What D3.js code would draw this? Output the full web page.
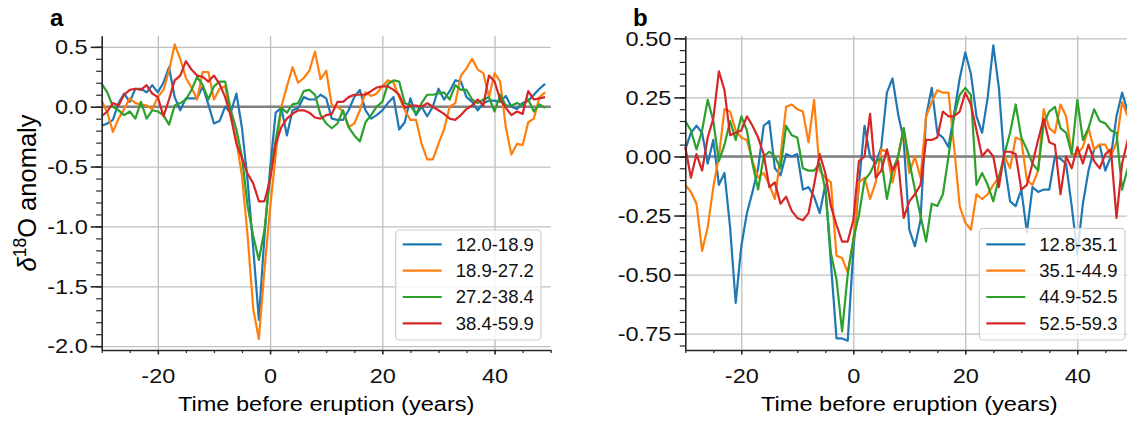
<!DOCTYPE html>
<meta charset="utf-8">

<style>
body { margin: 0; background: #fff; }
svg { display: block; font-family: "Liberation Sans", Arial, sans-serif; }
.grid line { stroke: #bfbfbf; stroke-width: 1.3; }
.grid path { display: none; }
.axis path, .axis line { stroke: #262626; stroke-width: 1.6; }
.axis text { fill: #111; font-size: 21px; font-family: "Liberation Sans", Arial, sans-serif; }
.minor path { display: none; }
.minor line { stroke: #262626; stroke-width: 1.2; }
.zero { stroke: #808080; stroke-width: 2.6; }
.series { fill: none; stroke-width: 2.2; stroke-linejoin: round; }
.legend text { font-size: 18.5px; fill: #111; }
</style>
<body>

<script src="https://cdn.jsdelivr.net/npm/d3@7"></script>
<script>

// years before eruption, one value per year
var years = d3.range(-30, 50);

var colors = ["#1f77b4", "#ff7f0e", "#2ca02c", "#d62728"];
var xTicks = [-20, 0, 20, 40];
var xMinor = [-30, -25, -15, -10, -5, 5, 10, 15, 25, 30, 35, 45, 50];

// panel a
var labelsA = ["12.0-18.9", "18.9-27.2", "27.2-38.4", "38.4-59.9"];
var yTicksA = [-2.0, -1.5, -1.0, -0.5, 0.0, 0.5];
var a1 = [-0.16,-0.14,-0.11,0.03,0.11,0.04,0.15,0.15,0.12,0.18,0.12,0.20,0.33,0.08,-0.03,0.07,0.07,0.07,0.17,0.02,
          -0.14,-0.12,0.00,-0.05,0.11,-0.18,-0.62,-1.18,-1.78,-1.08,-0.52,-0.05,-0.01,-0.24,-0.03,-0.01,0.08,0.06,0.06,0.10,
          0.07,-0.10,-0.11,-0.11,-0.03,0.08,0.14,-0.03,-0.10,-0.07,-0.03,0.03,0.08,-0.19,-0.13,0.07,-0.07,0.00,-0.08,0.00,
          0.15,0.06,0.13,0.22,0.21,0.08,0.04,-0.03,0.03,0.05,0.05,0.04,0.09,0.00,-0.02,0.03,0.05,0.10,0.15,0.19];
var a2 = [0.05,-0.05,-0.21,-0.10,-0.02,0.07,0.03,0.02,0.01,-0.02,0.08,0.14,0.30,0.52,0.40,0.24,0.16,0.06,0.29,0.29,
          0.06,0.15,0.17,-0.08,-0.28,-0.58,-1.08,-1.69,-1.94,-1.36,-0.85,-0.40,0.00,0.17,0.33,0.20,0.24,0.30,0.46,0.23,
          0.30,0.01,0.00,-0.04,-0.17,-0.14,-0.03,0.12,0.09,0.11,0.17,0.22,0.20,0.08,-0.03,-0.11,-0.11,-0.31,-0.44,-0.44,
          -0.31,-0.19,0.00,0.03,0.26,0.32,0.40,0.31,0.28,0.08,0.28,0.21,-0.17,-0.40,-0.31,-0.32,-0.13,-0.10,0.08,0.12];
var a3 = [0.19,0.12,0.00,-0.03,-0.07,-0.04,-0.10,0.04,-0.10,-0.03,-0.04,-0.07,-0.15,0.01,0.03,0.06,0.14,0.25,0.18,0.06,
          0.17,0.21,0.21,-0.03,-0.19,-0.42,-0.83,-1.08,-1.28,-1.03,-0.58,-0.28,-0.01,-0.05,0.02,0.03,0.13,0.14,0.10,-0.07,
          -0.14,-0.18,-0.14,-0.03,-0.17,-0.24,-0.29,-0.13,-0.07,0.00,0.04,0.19,0.22,0.21,0.03,0.01,-0.06,0.03,0.10,0.10,
          0.11,0.12,0.06,0.18,0.14,0.14,0.06,0.03,0.06,0.08,-0.04,0.10,0.01,0.01,0.03,0.01,0.06,-0.04,0.02,-0.01];
var a4 = [-0.08,-0.04,0.03,0.01,0.10,0.14,0.15,0.14,0.18,0.11,0.08,-0.08,0.06,0.22,0.26,0.38,0.31,0.26,0.25,0.21,
          0.26,0.19,0.08,-0.08,-0.31,-0.43,-0.56,-0.64,-0.79,-0.79,-0.61,-0.31,-0.17,-0.10,-0.06,-0.03,-0.03,-0.05,-0.09,-0.10,
          -0.07,-0.06,0.04,0.04,0.08,0.10,0.10,0.10,0.13,0.16,0.17,0.17,0.14,0.10,-0.01,0.01,0.01,0.00,0.03,0.00,
          -0.03,-0.06,-0.10,-0.11,-0.07,-0.02,0.01,0.06,0.01,0.26,0.21,0.06,-0.01,-0.07,-0.04,-0.06,0.13,0.06,0.07,0.08];

// panel b
var labelsB = ["12.8-35.1", "35.1-44.9", "44.9-52.5", "52.5-59.3"];
var yTicksB = [-0.75, -0.50, -0.25, 0.00, 0.25, 0.50];
var b1 = [0.03,0.10,0.13,0.10,-0.03,0.07,-0.12,-0.07,-0.30,-0.62,-0.38,-0.24,-0.15,-0.05,0.13,0.15,-0.05,-0.08,0.01,0.00,
          0.01,-0.14,-0.13,-0.17,-0.24,-0.12,-0.45,-0.77,-0.77,-0.78,-0.40,-0.12,0.13,0.00,-0.03,0.04,0.27,0.33,0.18,0.07,
          -0.31,-0.38,-0.27,0.17,0.29,0.10,0.08,0.04,0.18,0.33,0.44,0.35,0.17,0.10,0.25,0.47,0.29,-0.03,-0.19,-0.21,
          -0.14,-0.32,-0.13,-0.15,-0.14,-0.14,0.00,-0.01,-0.03,-0.21,-0.41,-0.20,-0.06,0.03,0.05,-0.06,0.00,0.17,0.27,0.19];
var b2 = [-0.12,-0.15,-0.20,-0.40,-0.30,-0.13,0.00,0.20,0.19,0.11,0.08,0.07,-0.02,-0.09,-0.07,-0.12,-0.18,0.00,0.21,0.22,
          0.20,0.19,0.06,0.24,-0.06,-0.09,-0.11,-0.42,-0.43,-0.49,-0.36,-0.11,-0.09,-0.18,-0.11,0.03,0.02,-0.11,0.00,0.12,
          -0.07,0.00,-0.09,0.17,0.23,0.28,0.27,0.27,0.04,-0.21,-0.28,-0.31,-0.16,-0.18,-0.16,-0.12,-0.09,0.00,-0.05,0.08,
          0.07,-0.10,-0.12,-0.06,0.20,0.12,0.10,0.22,0.17,0.01,0.01,0.04,0.12,0.03,0.05,0.05,0.00,0.06,0.23,0.17];
var b3 = [0.15,0.11,0.03,0.11,0.24,0.15,-0.02,0.05,0.15,0.07,0.17,0.11,-0.03,-0.14,0.00,0.02,0.00,-0.05,0.13,0.09,
          0.08,-0.05,-0.06,-0.06,-0.03,-0.14,-0.41,-0.52,-0.74,-0.50,-0.35,-0.25,-0.10,-0.07,-0.02,-0.01,-0.18,-0.06,0.00,0.12,
          -0.02,-0.14,-0.25,-0.36,-0.20,-0.21,-0.16,0.00,0.17,0.26,0.29,0.26,-0.12,-0.07,-0.12,-0.19,-0.09,0.01,0.10,0.22,
          0.08,0.03,-0.03,-0.06,0.14,0.19,0.21,0.12,0.10,0.01,0.24,0.07,0.12,0.20,0.15,0.14,0.11,0.10,-0.14,-0.05];
var b4 = [0.04,-0.09,0.01,-0.06,0.08,0.16,0.36,0.28,0.09,0.10,0.11,0.17,0.13,0.08,0.01,-0.13,-0.11,-0.20,-0.17,-0.23,
          -0.26,-0.27,-0.24,-0.12,0.01,-0.07,-0.21,-0.29,-0.36,-0.36,-0.27,-0.02,0.00,0.18,-0.09,-0.06,0.03,-0.06,-0.02,-0.26,
          -0.19,-0.16,-0.12,0.07,0.07,0.08,0.19,0.17,0.17,0.19,0.27,0.22,0.11,0.00,0.03,0.00,-0.13,0.02,0.02,0.01,
          -0.14,-0.12,-0.03,0.07,0.16,0.06,0.05,-0.16,0.00,-0.05,0.04,-0.03,0.05,-0.02,-0.05,0.01,0.03,-0.26,-0.03,0.07];

var W = 1127, H = 421;
var plotTop = 35.7, plotBottom = 350;

var svg = d3.select("body").append("svg")
    .attr("width", W)
    .attr("height", H);

// widen text a little, the reference glyphs run wider than Arial
function stretch(sel, k) {
  sel.each(function() {
    var w = this.getComputedTextLength();
    d3.select(this).attr("textLength", w * k).attr("lengthAdjust", "spacingAndGlyphs");
  });
}

function panel(p) {
  var x = d3.scaleLinear().domain([-30, 50]).range([p.left, p.right]);
  var y = d3.scaleLinear().domain(p.yDomain).range([plotBottom, plotTop]);
  var g = svg.append("g");

  // grid
  g.append("g").attr("class", "grid")
      .attr("transform", "translate(0," + plotBottom + ")")
      .call(d3.axisBottom(x).tickValues(xTicks).tickSize(-(plotBottom - plotTop)).tickFormat(""));
  g.append("g").attr("class", "grid")
      .attr("transform", "translate(" + p.left + ",0)")
      .call(d3.axisLeft(y).tickValues(p.yTicks).tickSize(-(p.right - p.left)).tickFormat(""));

  // zero line
  g.append("line").attr("class", "zero")
      .attr("x1", p.left).attr("x2", p.right)
      .attr("y1", y(0)).attr("y2", y(0));

  var line = d3.line()
      .x(function(d, i) { return x(years[i]); })
      .y(function(d) { return y(d); });

  p.series.forEach(function(s, i) {
    g.append("path").attr("class", "series")
        .attr("d", line(s))
        .style("stroke", colors[i]);
  });

  // minor ticks
  g.append("g").attr("class", "minor")
      .attr("transform", "translate(0," + plotBottom + ")")
      .call(d3.axisBottom(x).tickValues(xMinor).tickSize(3).tickFormat(""));
  g.append("g").attr("class", "minor")
      .attr("transform", "translate(" + p.left + ",0)")
      .call(d3.axisLeft(y).tickValues(p.yMinor).tickSize(5.5).tickFormat(""));

  // axes
  var xa = g.append("g").attr("class", "axis")
      .attr("transform", "translate(0," + plotBottom + ")")
      .call(d3.axisBottom(x).tickValues(xTicks).tickSizeInner(4.5).tickSizeOuter(0).tickPadding(14)
            .tickFormat(function(d) { return String(d); }));
  var ya = g.append("g").attr("class", "axis")
      .attr("transform", "translate(" + p.left + ",0)")
      .call(d3.axisLeft(y).tickValues(p.yTicks).tickSizeInner(11).tickSizeOuter(0).tickPadding(3)
            .tickFormat(p.yFormat));
  stretch(xa.selectAll("text"), 1.12);
  stretch(ya.selectAll("text"), 1.12);

  // x label
  var xl = g.append("text")
      .attr("x", (p.left + p.right) / 2)
      .attr("y", 411)
      .attr("text-anchor", "middle")
      .style("font-size", "20.5px")
      .text("Time before eruption (years)");
  stretch(xl, 1.15);

  // panel letter
  g.append("text")
      .attr("x", p.letterX)
      .attr("y", 25.5)
      .style("font-size", "24px")
      .style("font-weight", "bold")
      .text(p.letter);

  // legend
  var lg = g.append("g").attr("class", "legend");
  lg.append("rect")
      .attr("x", p.legend.x).attr("y", p.legend.y)
      .attr("width", p.legend.w).attr("height", p.legend.h)
      .attr("rx", 4)
      .style("fill", "#fff").style("fill-opacity", 0.8)
      .style("stroke", "#d0d0d0").style("stroke-width", 1.2);
  p.labels.forEach(function(lab, i) {
    var ry = 244.3 + i * 26.35;
    lg.append("line")
        .attr("x1", p.legend.x + 7).attr("x2", p.legend.x + 46)
        .attr("y1", ry).attr("y2", ry)
        .style("stroke", colors[i]).style("stroke-width", 2.2);
    lg.append("text")
        .attr("x", p.legend.x + 60)
        .attr("y", ry)
        .attr("dy", "0.35em")
        .text(lab);
  });

  return g;
}

panel({
  left: 101.7, right: 550.7,
  yDomain: [-2.032, 0.593],
  yTicks: yTicksA,
  yMinor: d3.range(-20, 6).map(function(v) { return v / 10; }),
  yFormat: function(d) { return d.toFixed(1); },
  series: [a1, a2, a3, a4],
  labels: labelsA,
  letter: "a", letterX: 50,
  legend: {x: 395.7, y: 230, w: 145.3, h: 110}
});

panel({
  left: 685.3, right: 1133.3,
  yDomain: [-0.819, 0.511],
  yTicks: yTicksB,
  yMinor: d3.range(-16, 11).map(function(v) { return v * 0.05; }),
  yFormat: function(d) { return d.toFixed(2); },
  series: [b1, b2, b3, b4],
  labels: labelsB,
  letter: "b", letterX: 633,
  legend: {x: 979.3, y: 228.3, w: 145.7, h: 111.7}
});

// y label of panel a
var yl = svg.append("text")
    .attr("transform", "translate(36,193) rotate(-90)")
    .attr("text-anchor", "middle")
    .style("font-size", "25.5px");
yl.append("tspan").style("font-style", "italic").text("δ");
yl.append("tspan").attr("dy", -10).style("font-size", "17.5px").text("18");
yl.append("tspan").attr("dy", 10).text("O anomaly");

</script>
</body>
